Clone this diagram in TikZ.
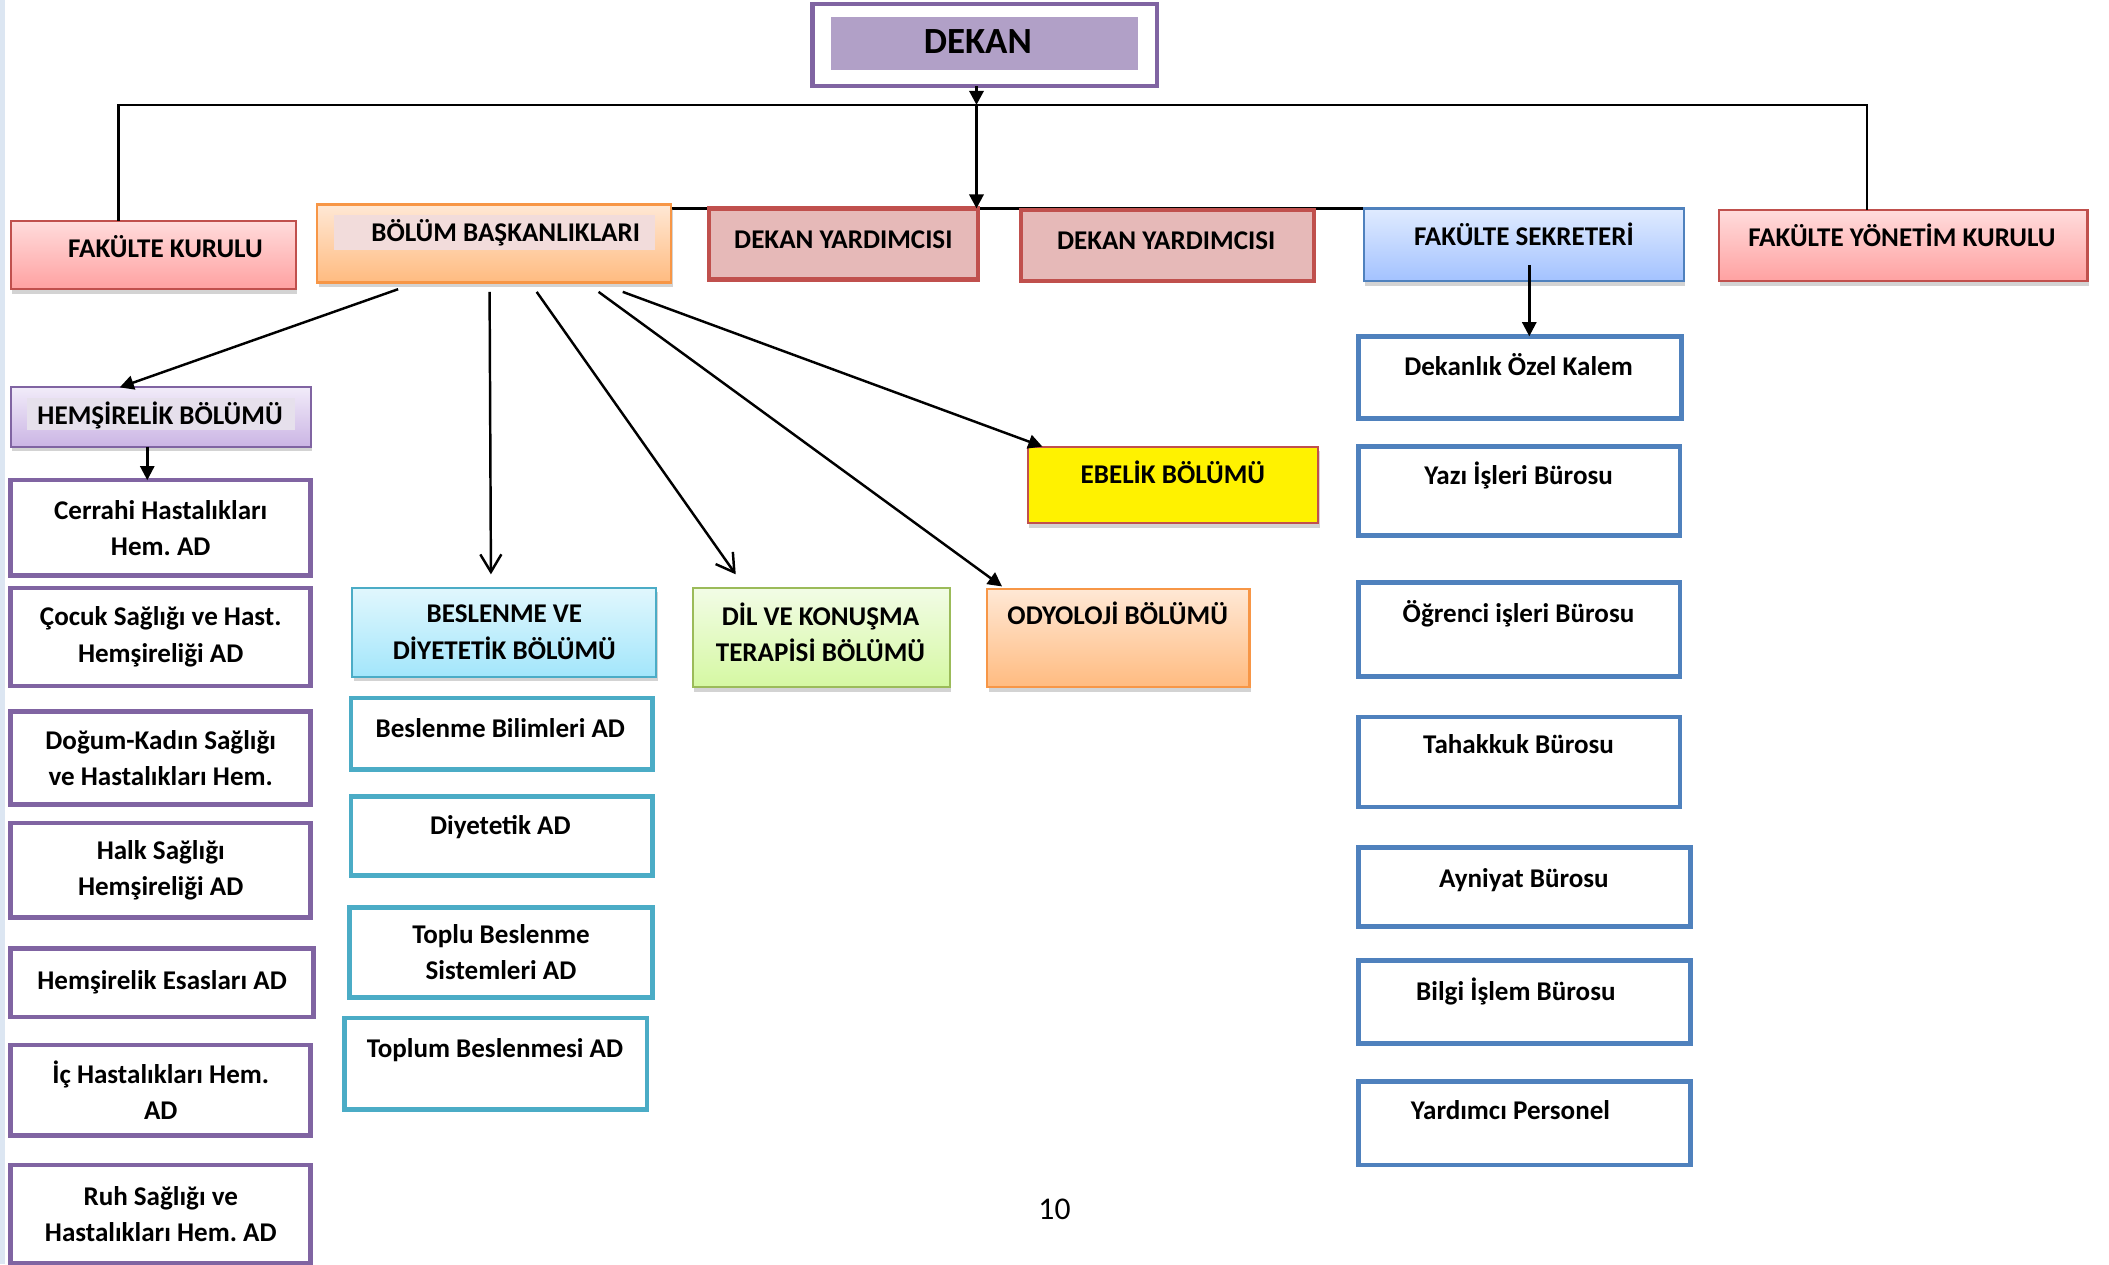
\documentclass[tikz,border=0pt]{standalone}
\usepackage{fontspec}
\setmainfont{Carlito}
\usetikzlibrary{arrows.meta,calc,shadows,backgrounds}

\definecolor{kirmiziKenar}{HTML}{C0504D}
\definecolor{pembeUst}{HTML}{FFDCDC}
\definecolor{pembeAlt}{HTML}{FFA1A1}
\definecolor{yardimci}{HTML}{E6B9B8}
\definecolor{turuncuKenar}{HTML}{F79646}
\definecolor{turuncuUst}{HTML}{FFE8D5}
\definecolor{turuncuAlt}{HTML}{FFBB80}
\definecolor{bolumIc}{HTML}{F2DCDB}
\definecolor{maviKenar}{HTML}{4F81BD}
\definecolor{maviUst}{HTML}{E0EBFF}
\definecolor{maviAlt}{HTML}{A3C2FF}
\definecolor{morKenar}{HTML}{8064A2}
\definecolor{morUst}{HTML}{F1EBF9}
\definecolor{morAlt}{HTML}{CBB5E4}
\definecolor{morIc}{HTML}{E6E0EC}
\definecolor{dekanIc}{HTML}{B1A0C7}
\definecolor{camKenar}{HTML}{4BACC6}
\definecolor{camUst}{HTML}{E1F7FD}
\definecolor{camAlt}{HTML}{A3E6FB}
\definecolor{yesilKenar}{HTML}{9BBB59}
\definecolor{yesilUst}{HTML}{F2FCE6}
\definecolor{yesilAlt}{HTML}{D5F8A2}
\definecolor{seritRenk}{HTML}{DCE6F2}

\newcommand{\birim}{0.13452mm}

\begin{document}
\frenchspacing
\begin{tikzpicture}[x=0.13452mm,y=-0.13452mm,
	every node/.style={inner sep=0pt,outer sep=0pt},
	sz/.style 2 args={minimum width=#1*\birim,minimum height=#2*\birim},
	yazi/.style={font=\fontsize{7.7}{10.3}\selectfont\bfseries,align=center},
	lbl/.style={yazi,text height=5pt,text depth=0pt},
	golge/.style={line width=0.6pt,drop shadow={shadow xshift=0.4pt,shadow yshift=-1.3pt,opacity=0.35}},
	pembe/.style={golge,draw=kirmiziKenar,top color=pembeUst,bottom color=pembeAlt},
	turuncu/.style={golge,draw=turuncuKenar,top color=turuncuUst,bottom color=turuncuAlt},
	mavi/.style={golge,draw=maviKenar,top color=maviUst,bottom color=maviAlt},
	mor/.style={golge,draw=morKenar,top color=morUst,bottom color=morAlt},
	cam/.style={golge,draw=camKenar,top color=camUst,bottom color=camAlt},
	yesil/.style={golge,draw=yesilKenar,top color=yesilUst,bottom color=yesilAlt},
	cerceve/.style={fill=white,line width=1.3pt,draw=#1},
	ok/.style={line width=0.7pt,-{Triangle[length=4pt,width=4pt]}},
	acikok/.style={line width=0.7pt,-{Straight Barb[length=5pt,width=6pt]}}]
	\useasboundingbox (0,0) rectangle (1568,940);
	\fill[seritRenk] (0,0) rectangle (4,940);

	% dekan
	\node[cerceve=morKenar,line width=1.2pt,sz={256}{61}] (dekan) at (732,33.5) {};
	\fill[dekanIc] ($(dekan.north west)+(14,10)$) rectangle ($(dekan.south east)+(-14,-12)$);
	\node[lbl,font=\fontsize{10.5}{12}\selectfont\bfseries,text height=6.8pt] (t-dekan) at (727,31) {DEKAN};

	% ikinci sira
	\node[pembe,sz={212}{51}] (fk) at (114,189.5) {};
	\node[lbl] (t-fk) at (123,185) {FAKÜLTE KURULU};
	\node[turuncu,sz={263}{58}] (bol) at (367.5,181) {};
	\fill[bolumIc] ($(bol.north west)+(12,8)$) rectangle ($(bol.north east)+(-12,34)$);
	\node[lbl] (t-bol) at (376,173) {BÖLÜM BAŞKANLIKLARI};
	\node[cerceve=kirmiziKenar,fill=yardimci,sz={200}{53}] (dy1) at (627,181.5) {};
	\node[lbl] (t-dy1) at (627,178) {DEKAN YARDIMCISI};
	\node[cerceve=kirmiziKenar,fill=yardimci,sz={218}{53}] (dy2) at (868,182.5) {};
	\node[lbl] (t-dy2) at (867,179) {DEKAN YARDIMCISI};
	\node[mavi,sz={238}{54}] (fs) at (1133,182) {};
	\node[lbl] (t-fs) at (1133,176) {FAKÜLTE SEKRETERİ};
	\node[pembe,sz={274}{53}] (fyk) at (1415,182.5) {};
	\node[lbl] (t-fyk) at (1414,177) {FAKÜLTE YÖNETİM KURULU};

	% fakulte sekreteri altindakiler
	\node[cerceve=maviKenar,sz={240}{61}] (dok) at (1130,280.5) {};
	\node[lbl] (t-dok) at (1129,273) {Dekanlık Özel Kalem};
	\node[cerceve=maviKenar,sz={239}{66}] (yaz) at (1129.5,365) {};
	\node[lbl] (t-yaz) at (1129,354) {Yazı İşleri Bürosu};
	\node[cerceve=maviKenar,sz={239}{70}] (ogr) at (1129.5,468) {};
	\node[lbl] (t-ogr) at (1129,456) {Öğrenci işleri Bürosu};
	\node[cerceve=maviKenar,sz={239}{67}] (tah) at (1129.5,566.5) {};
	\node[lbl] (t-tah) at (1129,554) {Tahakkuk Bürosu};
	\node[cerceve=maviKenar,sz={247}{59}] (ayn) at (1133.5,659.5) {};
	\node[lbl] (t-ayn) at (1133,653) {Ayniyat Bürosu};
	\node[cerceve=maviKenar,sz={247}{62}] (bil) at (1133.5,745) {};
	\node[lbl] (t-bil) at (1127,737) {Bilgi İşlem Bürosu};
	\node[cerceve=maviKenar,sz={247}{62}] (yrd) at (1133.5,835) {};
	\node[lbl] (t-yrd) at (1123,826) {Yardımcı Personel};

	% hemsirelik
	\node[mor,sz={223}{44}] (hem) at (119.5,310) {};
	\fill[morIc] ($(hem.north west)+(12,8)$) rectangle ($(hem.south east)+(-12,-12)$);
	\node[lbl] (t-hem) at (119,309) {HEMŞİRELİK BÖLÜMÜ};
	\node[cerceve=morKenar,yazi,sz={223}{71}] (cer) at (119.5,392.5) {Cerrahi Hastalıkları\\Hem. AD};
	\node[cerceve=morKenar,yazi,sz={223}{73}] (coc) at (119.5,473.5) {Çocuk Sağlığı ve Hast.\\Hemşireliği AD};
	\node[cerceve=morKenar,yazi,sz={223}{69}] (dog) at (119.5,563.5) {Doğum-Kadın Sağlığı\\ve Hastalıkları Hem.};
	\node[cerceve=morKenar,yazi,sz={223}{70}] (hlk) at (119.5,647) {Halk Sağlığı\\Hemşireliği AD};
	\node[cerceve=morKenar,yazi,sz={225}{51}] (esa) at (120.5,730.5) {Hemşirelik Esasları AD};
	\node[cerceve=morKenar,yazi,sz={223}{67}] (ic) at (119.5,810.5) {İç Hastalıkları Hem.\\AD};
	\node[cerceve=morKenar,yazi,sz={223}{73}] (ruh) at (119.5,902.5) {Ruh Sağlığı ve\\Hastalıkları Hem. AD};

	% beslenme
	\node[cam,yazi,sz={226}{66}] (bes) at (375,470) {BESLENME VE\\DİYETETİK BÖLÜMÜ};
	\node[cerceve=camKenar,sz={224}{53}] (bbl) at (373,545.5) {};
	\node[lbl] (t-bbl) at (372,542) {Beslenme Bilimleri AD};
	\node[cerceve=camKenar,sz={224}{59}] (diy) at (373,621.5) {};
	\node[lbl] (t-diy) at (372,614) {Diyetetik AD};
	\node[cerceve=camKenar,yazi,sz={225}{67}] (tbs) at (372.5,708) {Toplu Beslenme\\Sistemleri AD};
	\node[cerceve=camKenar,sz={225}{68}] (tpm) at (368.5,791) {};
	\node[lbl] (t-tpm) at (368,780) {Toplum Beslenmesi AD};

	% diger bolumler
	\node[yesil,sz={191}{74}] (dil) at (610.5,474) {};
	\node[yazi] (t-dil) at (610,470) {DİL VE KONUŞMA\\TERAPİSİ BÖLÜMÜ};
	\node[turuncu,sz={195}{73}] (ody) at (831.5,474.5) {};
	\node[lbl] (t-ody) at (831,458) {ODYOLOJİ BÖLÜMÜ};
	\node[golge,draw=kirmiziKenar,fill=yellow,sz={216}{57}] (ebe) at (872,360.5) {};
	\node[lbl] (t-ebe) at (872,353) {EBELİK BÖLÜMÜ};

	\node[font=\fontsize{9}{10}\selectfont] (sayfa) at (784,899) {10};

	% baglantilar
	\coordinate (tl) at (88,78);
	\coordinate (tr) at (1388,78);
	\coordinate (hub) at (726,155);
	\draw[line width=0.7pt] (fk.north -| tl) -- (tl) -- (tr) -- (fyk.north -| tr);
	\draw[ok,line width=0.9pt] (hub |- dekan.south) -- (hub |- tl);
	\draw[ok,line width=0.9pt] (hub |- tl) -- (hub);
	\begin{scope}[on background layer]
		\draw[line width=0.7pt] (bol.north east |- hub) -- (fs.north west |- hub);
	\end{scope}
	\draw[ok] ($(fs.south)+(4,-12)$) -- ($(dok.north)+(7,0)$);
	\draw[ok] ($(hem.south)+(-10,0)$) -- ($(cer.north)+(-10,0)$);
	\draw[ok] ($(bol.south west)+(60,5)$) -- ($(hem.north west)+(81,0)$);
	\draw[acikok] ($(bol.south west)+(128,7)$) -- ($(bes.north west)+(103,-10)$);
	\draw[acikok] ($(bol.south west)+(163,7)$) -- ($(dil.north west)+(32,-10)$);
	\draw[ok] ($(bol.south west)+(209,7)$) -- ($(ody.north west)+(11,-2)$);
	\draw[ok] ($(bol.south west)+(227,7)$) -- ($(ebe.north west)+(11,0)$);
\end{tikzpicture}
\end{document}
